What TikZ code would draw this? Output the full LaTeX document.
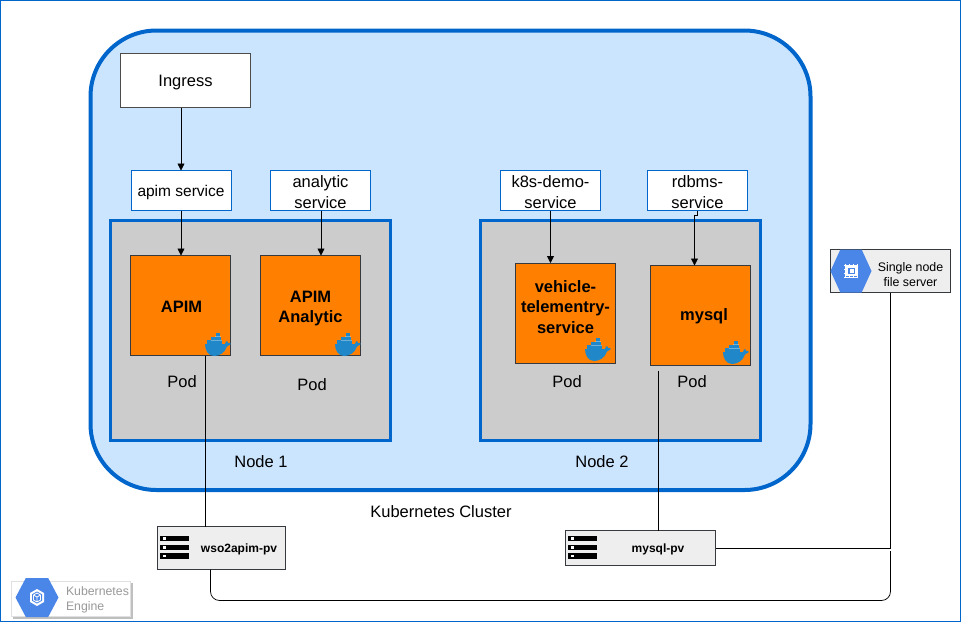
\documentclass[tikz,border=0pt]{standalone}
\usepackage{fontspec}
\setmainfont{Liberation Sans}
\usetikzlibrary{arrows.meta}
\definecolor{framecol}{HTML}{0066CC}
\definecolor{clusterfill}{HTML}{CCE5FF}
\definecolor{podorange}{HTML}{FF8000}
\definecolor{nodegrey}{HTML}{CCCCCC}
\definecolor{pvgrey}{HTML}{EEEEEE}
\definecolor{edgegrey}{HTML}{36393D}
\definecolor{gblue}{HTML}{4A86E8}
\definecolor{gdark}{HTML}{3F6FC8}
\definecolor{dockerblue}{HTML}{2088C8}
\tikzset{
  x=1pt,y=-1pt,
  every node/.style={outer sep=0pt},
  svc/.style={draw=framecol,fill=white,line width=0.75pt,inner sep=0pt,minimum width=100pt,minimum height=40pt},
  svctext/.style={inner sep=0pt,align=center,font=\fontsize{16.5}{21}\selectfont},
  nodebox/.style={draw=framecol,fill=nodegrey,line width=3.5pt},
  podbox/.style={draw=edgegrey,fill=podorange,line width=0.75pt,minimum width=100pt,minimum height=100pt,inner sep=0pt},
  podtext/.style={inner sep=0pt,align=center,font=\fontsize{16.5}{20.5}\selectfont\bfseries},
  lbl/.style={inner sep=0pt,font=\fontsize{16.5}{20}\selectfont,align=center},
  pvbox/.style={draw=edgegrey,fill=pvgrey,line width=0.75pt,inner sep=0pt},
  conn/.style={draw=black,line width=0.75pt},
  arr/.style={conn,-{Triangle[length=7pt,width=7pt]}},
}
% docker whale: #1 at its top-left reference corner
\newcommand{\dockerwhale}[1]{%
  \begin{scope}[shift={#1}]
    \fill[dockerblue] (0,11) -- (20,11) .. controls (21,7.5) and (22.5,7) .. (23,10) .. controls (24,9.5) and (25,10) .. (26,11)
      -- (22,13.5) .. controls (20,20) and (14,23) .. (9,23) .. controls (3,23) and (0,17) .. (0,11) -- cycle;
    \fill[dockerblue] (2,7) rectangle (17,11);
    \fill[dockerblue] (6,3.5) rectangle (16,7);
    \fill[dockerblue] (10.5,0) rectangle (14.5,3.5);
    \draw[white,opacity=.35,line width=0.3pt] (6,7)--(17,7) (10,3.5)--(16,3.5);
  \end{scope}}
\newcommand{\ghex}[4]{% cx, cy, halfwidth, halfheight
  \fill[gblue] (#1-#3,#2) -- (#1-#3*0.52,#2-#4) -- (#1+#3*0.52,#2-#4) -- (#1+#3,#2) -- (#1+#3*0.52,#2+#4) -- (#1-#3*0.52,#2+#4) -- cycle;}
\newcommand{\pvicon}[2]{% left, top
  \foreach \k in {0,1,2}{
    \fill[black] (#1,#2+\k*8.7) rectangle ++(29,5.4);
    \fill[white] (#1+3,#2+1.4+\k*8.7) rectangle ++(2.6,2.6);
  }}
\begin{document}
\begin{tikzpicture}[line join=miter]
\useasboundingbox (0,0) rectangle (961,622);
\fill[white] (0,0) rectangle (961,622);
\draw[framecol,line width=1pt] (0.5,0.5) rectangle (960.5,621);

% cluster
\draw[framecol,fill=clusterfill,line width=4pt,rounded corners=66pt] (90.5,30.5) rectangle (810.5,490);

% worker nodes
\node[nodebox,minimum width=280pt,minimum height=220pt,inner sep=0pt,anchor=north west] (node1) at (110.5,220.5) {};
\node[nodebox,minimum width=280pt,minimum height=220pt,inner sep=0pt,anchor=north west] (node2) at (480.5,220.5) {};

% ingress + services
\node[draw=black!70,fill=white,line width=0.75pt,minimum width=130pt,minimum height=54pt,inner sep=0pt,anchor=north west] (ingress) at (120.5,53.5) {};
\node[lbl] (ingresst) at (185.5,82.5) {Ingress};
\node[svc,anchor=north west] (apimsvc) at (131,170.5) {};
\node[svctext] (apimsvct) at (181,192.5) {\fontsize{15.5}{20.5}\selectfont apim service};
\node[svc,anchor=north west] (anasvc) at (270.5,170.5) {};
\node[svctext] (anasvct) at (320.5,192) {analytic\\service};
\node[svc,anchor=north west] (k8ssvc) at (500.5,170.5) {};
\node[svctext] (k8ssvct) at (550.5,192) {k8s-demo-\\service};
\node[svc,anchor=north west] (rdbsvc) at (647.5,170.5) {};
\node[svctext] (rdbsvct) at (697.5,192) {rdbms-\\service};

% pods
\node[podbox,anchor=north west] (apim) at (130.5,255.5) {};
\node[podtext] (apimt) at (181.5,306.5) {APIM};
\node[podbox,anchor=north west] (ana) at (260.5,255.5) {};
\node[podtext] (anat) at (310.5,308.5) {APIM\\Analytic};
\node[podbox,anchor=north west] (veh) at (515.5,263) {};
\node[podtext] (veht) at (565.5,307) {vehicle-\\telementry-\\service};
\node[podbox,anchor=north west] (mysql) at (650.5,265.5) {};
\node[podtext] (mysqllbl) at (704,316) {mysql};

\dockerwhale{(205,333)}
\dockerwhale{(335,333)}
\dockerwhale{(585,338)}
\dockerwhale{(723,341)}

% labels
\node[lbl] (pod1) at (182,381.5) {Pod};
\node[lbl] (pod2) at (312,384.5) {Pod};
\node[lbl] (pod3) at (567,381.5) {Pod};
\node[lbl] (pod4) at (692,381.5) {Pod};
\node[lbl] (n1) at (261,462) {Node 1};
\node[lbl] (n2) at (602,462) {Node 2};
\node[lbl] (kc) at (441,512) {Kubernetes Cluster};

% persistent volumes
\node[pvbox,minimum width=128pt,minimum height=43pt,anchor=north west] (wso) at (157,526.5) {};
\node[inner sep=0pt,font=\fontsize{12}{14}\selectfont\bfseries] (wsol) at (239,549) {wso2apim-pv};
\pvicon{160}{536}
\node[pvbox,minimum width=150pt,minimum height=35pt,anchor=north west] (mpv) at (565.5,530.5) {};
\node[inner sep=0pt,font=\fontsize{12}{14}\selectfont\bfseries] (mpvl) at (658,549) {mysql-pv};
\pvicon{568}{536}

% file server
\node[pvbox,minimum width=120pt,minimum height=43pt,anchor=north west] (fs) at (830.5,249.5) {};
\begin{scope}
  \clip (830.5,249.5) rectangle (950.5,292.5);
  \ghex{851}{271}{20.5}{21.5}
\end{scope}
\foreach \q in {845.5,849.5,853.5,857.5}{\draw[white,line width=0.7pt] (\q,264)--(\q,278);}
\foreach \q in {264.5,268.5,272.5,276.5}{\draw[white,line width=0.7pt] (844,\q+0.5)--(858,\q+0.5);}
\fill[gblue] (846,266) rectangle (857,276);
\draw[white,line width=1.2pt] (847,267) rectangle (856,275);
\fill[white] (849.5,269) rectangle (853.5,273);
\node[inner sep=0pt,font=\fontsize{12.4}{15}\selectfont,align=center] (fsl) at (910.5,274.5) {Single node\\file server};

% GKE badge
\fill[black!25] (13,583) rectangle (133,619);
\draw[black!12,fill=white,line width=0.75pt] (11,581) rectangle (130.5,616);
\ghex{37}{597.5}{21.5}{19.5}
\fill[white] (37,589) -- (44,593) -- (44,602) -- (37,606) -- (30,602) -- (30,593) -- cycle;
\fill[gblue] (37,591.5) -- (42,594.3) -- (42,600.7) -- (37,603.5) -- (32,600.7) -- (32,594.3) -- cycle;
\draw[white,line width=0.8pt,line join=round] (37,593) -- (40.5,595) -- (40.5,600) -- (37,602) -- (33.5,600) -- (33.5,595) -- cycle (33.5,595) -- (37,597) -- (40.5,595) (37,597) -- (37,602);
\node[inner sep=0pt,anchor=west,font=\fontsize{12.3}{15}\selectfont,text=black!40,align=left] (gke) at (66,599.5) {Kubernetes\\Engine};

% connectors
\draw[arr] (ingress.south -| 181,0) -- (apimsvc.north -| 181,0);
\draw[arr] (apimsvc.south -| 181,0) -- (apim.north -| 181,0);
\draw[arr] (anasvc.south -| 321,0) -- (ana.north -| 321,0);
\draw[arr] (k8ssvc.south -| 550.5,0) -- (veh.north -| 550.5,0);
\draw[arr] (rdbsvc.south) -- ++(0,4.5) -| (mysql.north -| 694.5,0);
\draw[conn] (apim.south -| 205.5,0) -- (wso.north -| 205.5,0);
\coordinate (mysqltop) at (658.5,371);
\draw[conn] (mysqltop) -- (mpv.north -| 658.5,0);
\draw[conn] (fs.south -| 890.5,0) -- (890.5,548.5) -- (mpv.east |- 0,548.5);
\draw[conn,rounded corners=9pt] (wso.south -| 210.5,0) -- (210.5,600.5) -- (890.5,600.5) -- (890.5,551);
\end{tikzpicture}
\end{document}
